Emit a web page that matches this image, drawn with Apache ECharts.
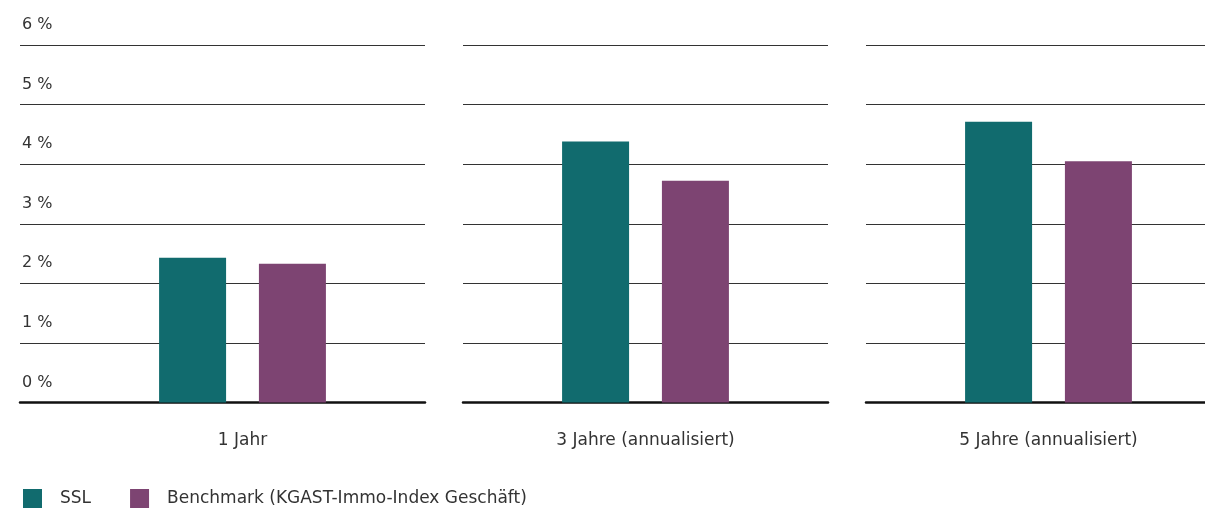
<!DOCTYPE html>
<html>
<head>
<meta charset="utf-8">
<script src="https://cdn.jsdelivr.net/npm/echarts@6/dist/echarts.min.js"></script>
<style>html,body{margin:0;padding:0;background:#fff;overflow:hidden}#c{width:1231px;height:511px}</style>
</head>
<body>
<div id="c"></div>
<script>
const categories = ['1 Jahr', '3 Jahre (annualisiert)', '5 Jahre (annualisiert)'];
const seriesNames = ['SSL', 'Benchmark (KGAST-Immo-Index Geschäft)'];
const sslValues = [2.43, 4.38, 4.71];
const benchmarkValues = [2.33, 3.72, 4.05];
const yTicks = [0, 1, 2, 3, 4, 5, 6];

const FONT = 'DejaVu Sans';
const TEXT = '#333333';
const colors = ['#116b6e', '#7d4472'];
const gTop = 45, gBottom = 511 - 402.5;

const grids = [
  { left: 20, width: 405, top: gTop, bottom: gBottom },   // background panel 1 (labels + lines)
  { left: 60, width: 365, top: gTop, bottom: gBottom },
  { left: 463, width: 365, top: gTop, bottom: gBottom },
  { left: 866, width: 365, top: gTop, bottom: gBottom }
];

const xAxes = [], yAxes = [], series = [];
grids.forEach((g, i) => {
  const isBg = i === 0;
  const isBars1 = i === 1;
  xAxes.push({
    type: 'category', gridIndex: i,
    data: isBg ? [''] : [categories[i - 1]],
    axisTick: { show: false },
    axisLine: { show: !isBars1, lineStyle: { color: '#111', width: 2.5 } },
    axisLabel: { show: !isBg, margin: 30, fontFamily: FONT, fontSize: 17, color: TEXT }
  });
  yAxes.push({
    type: 'value', gridIndex: i, min: 0, max: 6, interval: 1,
    axisLine: { show: false }, axisTick: { show: false },
    splitLine: { show: !isBars1, lineStyle: { color: '#333', width: 1 } },
    axisLabel: {
      show: isBg, inside: true, margin: 0, align: 'left', verticalAlign: 'bottom',
      padding: [0, 0, 12, 2], fontFamily: FONT, fontSize: 16, color: TEXT,
      formatter: v => yTicks.includes(v) ? v + ' %' : ''
    }
  });
});

for (let k = 0; k < 3; k++) {
  const gi = k + 1;
  series.push({
    name: seriesNames[0], type: 'bar', xAxisIndex: gi, yAxisIndex: gi,
    data: [sslValues[k]], barWidth: 67, barGap: '49%',
    itemStyle: { color: colors[0] }, z: 3
  });
  series.push({
    name: seriesNames[1], type: 'bar', xAxisIndex: gi, yAxisIndex: gi,
    data: [benchmarkValues[k]], barWidth: 67, barGap: '49%',
    itemStyle: { color: colors[1] }, z: 3
  });
}

const chart = echarts.init(document.getElementById('c'), null, { renderer: 'canvas' });
chart.setOption({
  animation: false,
  color: colors,
  grid: grids,
  xAxis: xAxes,
  yAxis: yAxes,
  legend: {
    left: 18, top: 484, itemWidth: 19, itemHeight: 19, itemGap: 39,
    icon: 'rect', selectedMode: false,
    data: seriesNames,
    textStyle: { fontFamily: FONT, fontSize: 17, color: TEXT, padding: [0, 0, 0, 13] }
  },
  series
});
</script>
</body>
</html>
